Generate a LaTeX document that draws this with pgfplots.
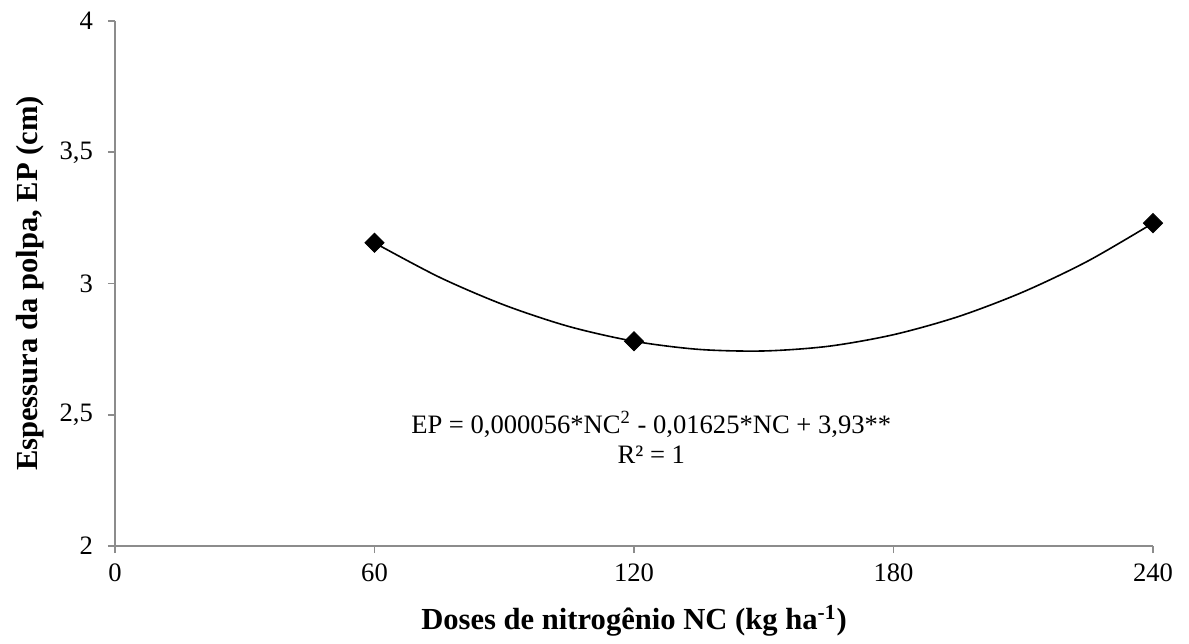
\documentclass[border=0pt]{standalone}
\usepackage{fontspec}
\setmainfont{Liberation Serif}
\usepackage{pgfplots}
\pgfplotsset{compat=1.18}
\begin{document}
\begin{tikzpicture}
\begin{axis}[
  at={(0,0)}, anchor=south west,
  scale only axis,
  width=519pt, height=262.5pt,
  xmin=0, xmax=240, ymin=2, ymax=4,
  xtick={0,60,120,180,240},
  ytick={2,2.5,3,3.5,4},
  axis lines=left,
  axis line style={draw=black!45, line width=0.9pt, -},
  tick style={draw=black!45, line width=0.9pt},
  tick align=outside,
  major tick length=3.5pt,
  /pgf/number format/assume math mode=true,
  /pgf/number format/use comma,
  ticklabel style={font=\fontsize{13.3}{15}\selectfont},
  yticklabel style={xshift=-4pt},
  xticklabel style={yshift=-2pt},
  xlabel={\textbf{Doses de nitrogênio NC (kg ha\textsuperscript{-1})}},
  ylabel={\textbf{Espessura da polpa, EP (cm)}},
  label style={font=\fontsize{15.3}{18}\selectfont},
  xlabel style={at={(axis description cs:0.5,0)}, anchor=center, yshift=-37.5pt},
  ylabel style={at={(axis description cs:0,0.5)}, anchor=center, rotate=0, yshift=42.5pt},
  clip=false,
]
\addplot[black, line width=0.8pt, smooth] coordinates {
  (60,3.155) (75,3.024) (90,2.918) (105,2.836) (120,2.780) (135,2.749)
  (150,2.743) (165,2.761) (180,2.805) (195,2.874) (210,2.968) (225,3.086) (240,3.230)
};
\addplot[only marks, mark=square*, mark size=3.4pt, mark options={rotate=45, fill=black, draw=black}] coordinates {
  (60,3.155) (120,2.780) (240,3.230)
};
\node[align=center, font=\fontsize{13.3}{15}\selectfont] at (axis cs:124,2.415)
  {EP = 0,000056*NC\textsuperscript{2} - 0,01625*NC + 3,93**\\R² = 1};
\end{axis}
\path (-57.5pt,-47.5pt) rectangle (537pt,273pt);
\end{tikzpicture}
\end{document}
